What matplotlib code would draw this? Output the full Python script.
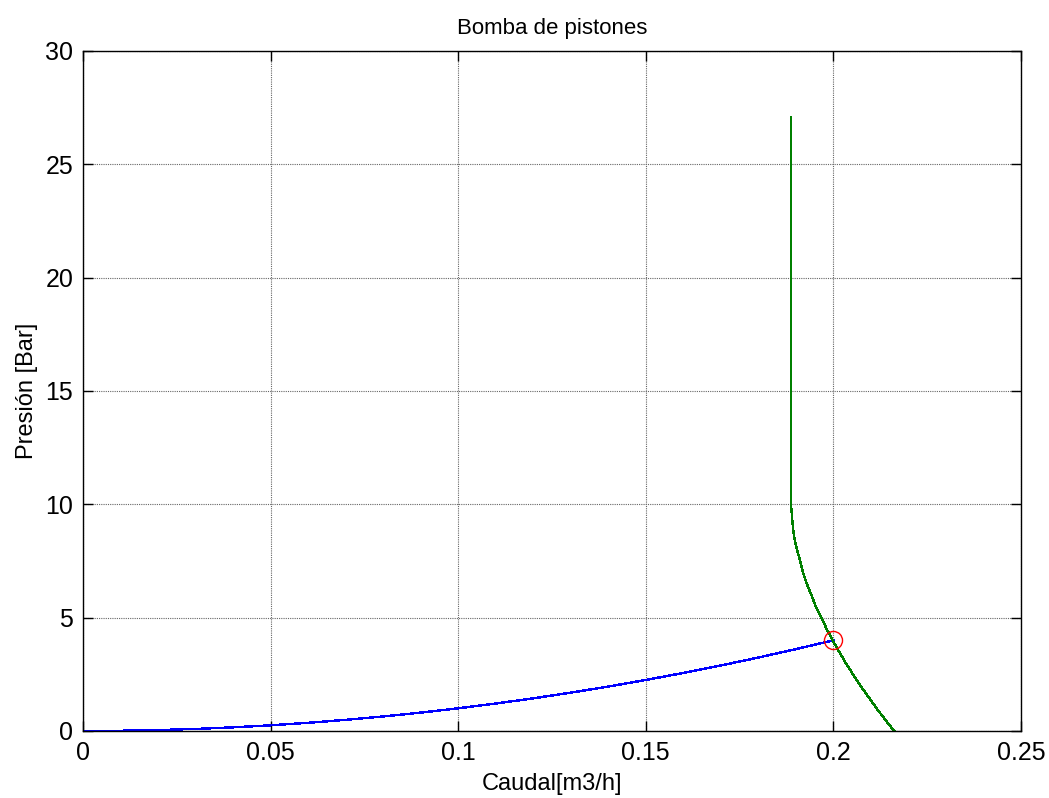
import matplotlib
matplotlib.use("Agg")
import matplotlib.pyplot as plt

# Curva del sistema (azul)
caudal_sist = [0.0, 0.01, 0.02, 0.03, 0.04, 0.05, 0.06, 0.07, 0.08, 0.09, 0.10,
               0.11, 0.12, 0.13, 0.14, 0.15, 0.16, 0.17, 0.18, 0.19, 0.20]
presion_sist = [0.0, 0.01, 0.04, 0.09, 0.16, 0.25, 0.36, 0.49, 0.64, 0.81, 1.0,
                1.21, 1.44, 1.69, 1.96, 2.25, 2.56, 2.89, 3.24, 3.61, 4.0]

# Curva de la bomba (verde)
caudal_bomba = [0.1887, 0.1887, 0.1892, 0.1896, 0.1903, 0.1910, 0.1919, 0.1929,
                0.1943, 0.1953, 0.1967, 0.1982, 0.1998, 0.2015, 0.2033, 0.2052,
                0.2080, 0.2115, 0.2138, 0.2162]
presion_bomba = [27.1, 10.0, 9.0, 8.5, 8.0, 7.6, 7.0, 6.5,
                 5.93, 5.5, 5.03, 4.5, 4.0, 3.5, 3.0, 2.5,
                 1.81, 1.0, 0.5, 0.0]

# Punto de funcionamiento
q_op = [0.2]
p_op = [4.0]

plt.rcParams["font.family"] = ["Liberation Sans", "DejaVu Sans"]

fig = plt.figure(figsize=(10.49, 7.98), dpi=100)
ax = fig.add_axes([0.0791, 0.0840, 0.8942, 0.8521])

ax.plot(caudal_sist, presion_sist, color="blue", lw=1.0, antialiased=False)
ax.plot(caudal_bomba, presion_bomba, color="green", lw=1.0, antialiased=False)
ax.plot(q_op, p_op, "o", mfc="none", mec="red", ms=13, mew=1.0)

ax.set_xlim(0, 0.25)
ax.set_ylim(0, 30)
ax.set_xticks([0, 0.05, 0.1, 0.15, 0.2, 0.25])
ax.set_xticklabels(["0", "0.05", "0.1", "0.15", "0.2", "0.25"])
ax.set_yticks([0, 5, 10, 15, 20, 25, 30])

ax.grid(True, color="0.4", linestyle=(0, (1, 1)), linewidth=0.8)
ax.tick_params(direction="in", top=True, right=True, length=7, width=1.0,
               labelsize=18, pad=7)
for s in ax.spines.values():
    s.set_linewidth(1.0)

ax.set_title("Bomba de pistones", fontsize=16, pad=12)
ax.set_xlabel("Caudal[m3/h]", fontsize=17, labelpad=6)
ax.set_ylabel("Presión [Bar]", fontsize=17, labelpad=5)

fig.savefig("out.png", dpi=100)
